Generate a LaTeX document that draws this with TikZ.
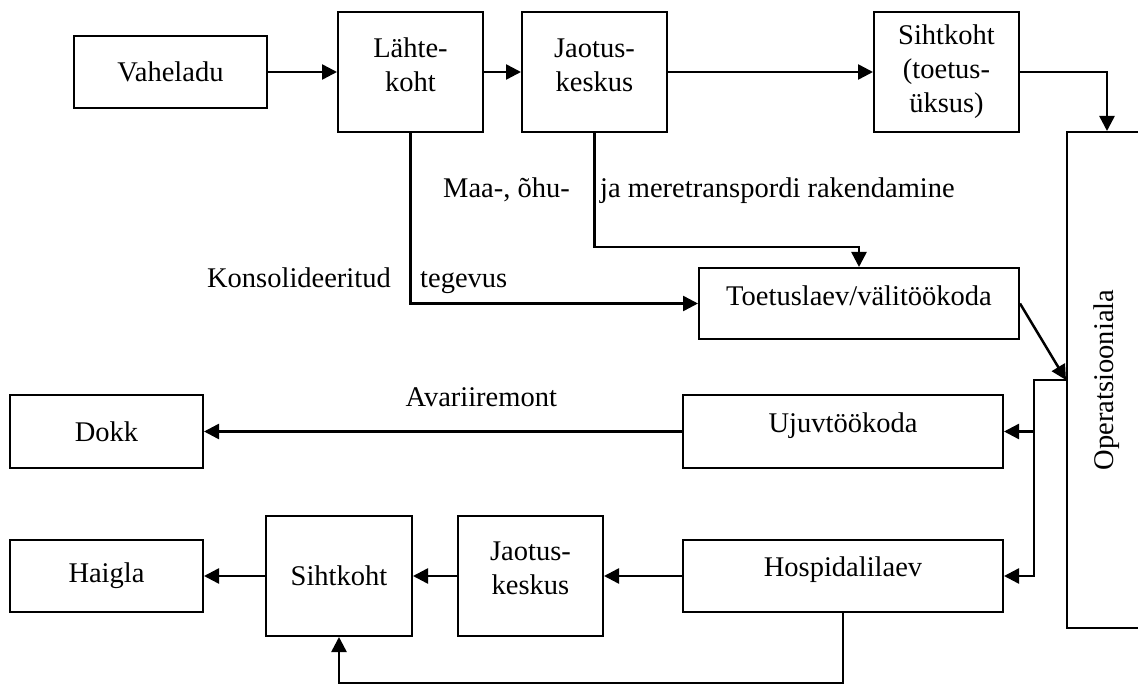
\documentclass[tikz,border=0pt]{standalone}
\usepackage{fontspec}
\setmainfont{Liberation Serif}
\usetikzlibrary{arrows.meta}
% raise the glyphs of a box label without changing its reported size
\newcommand\lift[2]{\raisebox{#1}[\height][\depth]{#2}}
\begin{document}
\begin{tikzpicture}[x=1pt,y=-1pt,
  font=\fontsize{28.5}{34}\selectfont,
  box/.style n args={2}{draw, line width=2pt, minimum width=#1, minimum height=#2,
    inner sep=0pt, align=center},
  link/.style={line width=2.5pt, -{Triangle[length=15pt,width=15pt]}},
  note/.style={inner sep=0pt}]
\useasboundingbox (0,0) rectangle (1138,684);

% top row
\node[box={193pt}{72pt}]  (vah)   at (170.5,72)  {Vaheladu};
\node[box={145pt}{120pt}] (lahte) at (410.5,72)  {\lift{7pt}{Lähte-}\\\lift{7pt}{koht}};
\node[box={145pt}{120pt}] (jaot)  at (594.5,72)  {\lift{7pt}{Jaotus-}\\\lift{7pt}{keskus}};
\node[box={145pt}{120pt}] (siht)  at (946.5,72)  {Sihtkoht\\(toetus-\\üksus)};

% operation area
\node[box={80pt}{496pt}]  (op)    at (1107,380) {};
\node[rotate=90, note]    (optext) at (op.center) {Operatsiooniala};

% middle and lower rows
\node[box={320pt}{71pt}]  (toet)  at (859,303.5) {\lift{8pt}{Toetuslaev/välitöökoda}};
\node[box={320pt}{73pt}]  (ujuv)  at (843,431.5) {\lift{6pt}{Ujuvtöökoda}};
\node[box={193pt}{73pt}]  (dokk)  at (106.5,431.5) {Dokk};
\node[box={320pt}{72pt}]  (hosp)  at (843,576)   {\lift{6pt}{Hospidalilaev}};
\node[box={145pt}{120pt}] (jaot2) at (530.5,576) {\lift{8pt}{Jaotus-}\\\lift{8pt}{keskus}};
\node[box={146pt}{120pt}] (siht2) at (339,576)   {Sihtkoht};
\node[box={193pt}{72pt}]  (haigla) at (106.5,576) {Haigla};

% labels on the transport lines
\node[note, anchor=base east] (lbl1) at (570,198) {Maa-, õhu-};
\node[note, anchor=base west] (lbl2) at (600,198) {ja meretranspordi rakendamine};
\node[note, anchor=base east] (lbl3) at (391,288) {Konsolideeritud};
\node[note, anchor=base west] (lbl4) at (420,288) {tegevus};

% supply chain
\draw[link] (vah) -- (lahte);
\draw[link] (lahte) -- (jaot);
\draw[link] (jaot) -- (siht);
\draw[link] (siht.east) -| (op.north);
\draw[link] (lahte.south) |- (toet.west);
\draw[link] (jaot.south) -- ++(0,114) -| (toet.north);
\draw[link] (toet.east) -- (op.west);

% return flows
\path (op.west) ++(-32,0) coordinate (bus);
\draw[link] (op.west) -- (bus) |- (hosp.east);
\draw[link] (bus |- ujuv.east) -- (ujuv.east);
\draw[link] (ujuv) -- node[pos=0.42, above=23pt, note] (lbl5) {Avariiremont} (dokk);
\draw[link] (hosp) -- (jaot2);
\draw[link] (jaot2) -- (siht2);
\draw[link] (siht2) -- (haigla);
\draw[link] (hosp.south) -- ++(0,70) -| (siht2.south);
\end{tikzpicture}
\end{document}
